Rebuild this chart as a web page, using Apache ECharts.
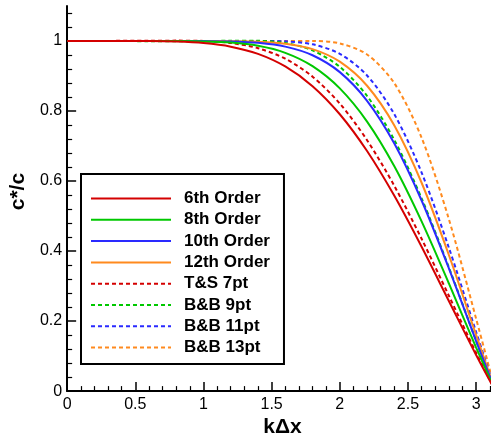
<!DOCTYPE html>
<html>
<head>
<meta charset="utf-8">
<script src="https://cdn.jsdelivr.net/npm/echarts@6/dist/echarts.min.js"></script>
<style>
html, body { margin: 0; padding: 0; background: #fff; }
#chart { width: 491px; height: 443px; }
</style>
</head>
<body>
<div id="chart"></div>
<script>
// kΔx sample points
const kdx = [0, 0.6, 0.8, 1.0, 1.2, 1.4, 1.6, 1.8, 2.0, 2.2, 2.4, 2.6, 2.8, 3.0, 3.1416]

// c*/c
const ord6  = [1, 0.9997, 0.9983, 0.9941, 0.9839, 0.9633, 0.9273, 0.8710, 0.7908, 0.6857, 0.5577, 0.4121, 0.2573, 0.1031, 0]
const ord8  = [1, 1.0000, 0.9998, 0.9988, 0.9954, 0.9863, 0.9662, 0.9281, 0.8646, 0.7699, 0.6421, 0.4847, 0.3074, 0.1243, 0]
const ord10 = [1, 1.0000, 1.0000, 0.9997, 0.9987, 0.9948, 0.9840, 0.9593, 0.9111, 0.8293, 0.7072, 0.5445, 0.3506, 0.1430, 0]
const ord12 = [1, 1.0000, 1.0000, 0.9999, 0.9996, 0.9980, 0.9923, 0.9767, 0.9410, 0.8722, 0.7586, 0.5951, 0.3888, 0.1599, 0]
const ts7   = [1, 1.0007, 1.0011, 1.0001, 0.9944, 0.9795, 0.9494, 0.8982, 0.8213, 0.7167, 0.5861, 0.4350, 0.2723, 0.1093, 0]
const bb9   = [1, 0.9996, 0.9994, 0.9997, 1.0007, 1.0005, 0.9942, 0.9731, 0.9262, 0.8430, 0.7173, 0.5505, 0.3534, 0.1438, 0]
const bb11  = [1, 1.0000, 1.0000, 0.9999, 0.9999, 1.0002, 0.9990, 0.9905, 0.9633, 0.9016, 0.7908, 0.6242, 0.4095, 0.1688, 0]
const bb13  = [1, 0.9999, 1.0000, 1.0001, 1.0001, 0.9998, 1.0000, 1.0001, 0.9931, 0.9615, 0.8794, 0.7238, 0.4911, 0.2066, 0]

const seriesNames = ['6th Order', '8th Order', '10th Order', '12th Order', 'T&S 7pt', 'B&B 9pt', 'B&B 11pt', 'B&B 13pt']
const seriesValues = [ord6, ord8, ord10, ord12, ts7, bb9, bb11, bb13]

const xTicks = [0, 0.5, 1, 1.5, 2, 2.5, 3]
const yTicks = [0, 0.2, 0.4, 0.6, 0.8, 1]

const colors = ['#d40000', '#00c800', '#2a2aff', '#ff8a1e']
const font = 'Liberation Sans, Arial, Helvetica, sans-serif'

const chart = echarts.init(document.getElementById('chart'))

const series = seriesValues.map((vals, i) => ({
    name: seriesNames[i],
    type: 'line',
    data: kdx.map((x, j) => [x, vals[j]]),
    smooth: 0.3,
    symbol: 'none',
    showSymbol: false,
    clip: true,
    z: 10 - i,
    lineStyle: {
        color: colors[i % 4],
        width: 2,
        type: i < 4 ? 'solid' : [4, 3]
    },
    itemStyle: { color: colors[i % 4] }
}))

const option = {
    animation: false,
    backgroundColor: '#fff',
    grid: { left: 62, right: 0, top: 6, bottom: 43 },
    xAxis: {
        type: 'value',
        min: 0,
        max: 3.109,
        interval: 0.5,
        name: 'kΔx',
        nameLocation: 'middle',
        nameGap: 19,
        nameTextStyle: { fontFamily: font, fontSize: 21, fontWeight: 'bold', color: '#000', padding: [0, 0, 0, 7] },
        axisLine: { show: true, onZero: false, lineStyle: { color: '#000', width: 2 } },
        axisTick: { inside: true, length: 9, customValues: xTicks, lineStyle: { color: '#000', width: 1.5 } },
        minorTick: { show: true, splitNumber: 5, length: 5, lineStyle: { color: '#000', width: 1.2 } },
        axisLabel: { customValues: xTicks, margin: 5, fontFamily: font, fontSize: 16, color: '#000' },
        splitLine: { show: false }
    },
    yAxis: {
        type: 'value',
        min: 0,
        max: 1.1,
        interval: 0.2,
        name: 'c*/c',
        nameLocation: 'middle',
        nameGap: 11,
        nameTextStyle: { fontFamily: font, fontSize: 21, fontWeight: 'bold', color: '#000', padding: [0, 0, 0, 14] },
        axisLine: { show: true, onZero: false, lineStyle: { color: '#000', width: 2 } },
        axisTick: { inside: true, length: 9, customValues: yTicks, lineStyle: { color: '#000', width: 1.5 } },
        minorTick: { show: true, splitNumber: 5, length: 5, lineStyle: { color: '#000', width: 1.2 } },
        axisLabel: { customValues: yTicks, margin: 5, fontFamily: font, fontSize: 16, color: '#000' },
        splitLine: { show: false }
    },
    legend: {
        data: seriesNames,
        orient: 'vertical',
        left: 81,
        top: 174,
        padding: [16, 14, 8, 9],
        itemGap: 4.3,
        itemWidth: 80,
        itemHeight: 12,
        selectedMode: false,
        backgroundColor: '#fff',
        borderColor: '#000',
        borderWidth: 2,
        itemStyle: { opacity: 0 },
        textStyle: { fontFamily: font, fontSize: 17, fontWeight: 'bold', color: '#000', lineHeight: 17, padding: [0, 0, 0, 8] }
    },
    series: series
}

chart.setOption(option)
window.addEventListener('resize', () => chart.resize())
</script>
</body>
</html>
